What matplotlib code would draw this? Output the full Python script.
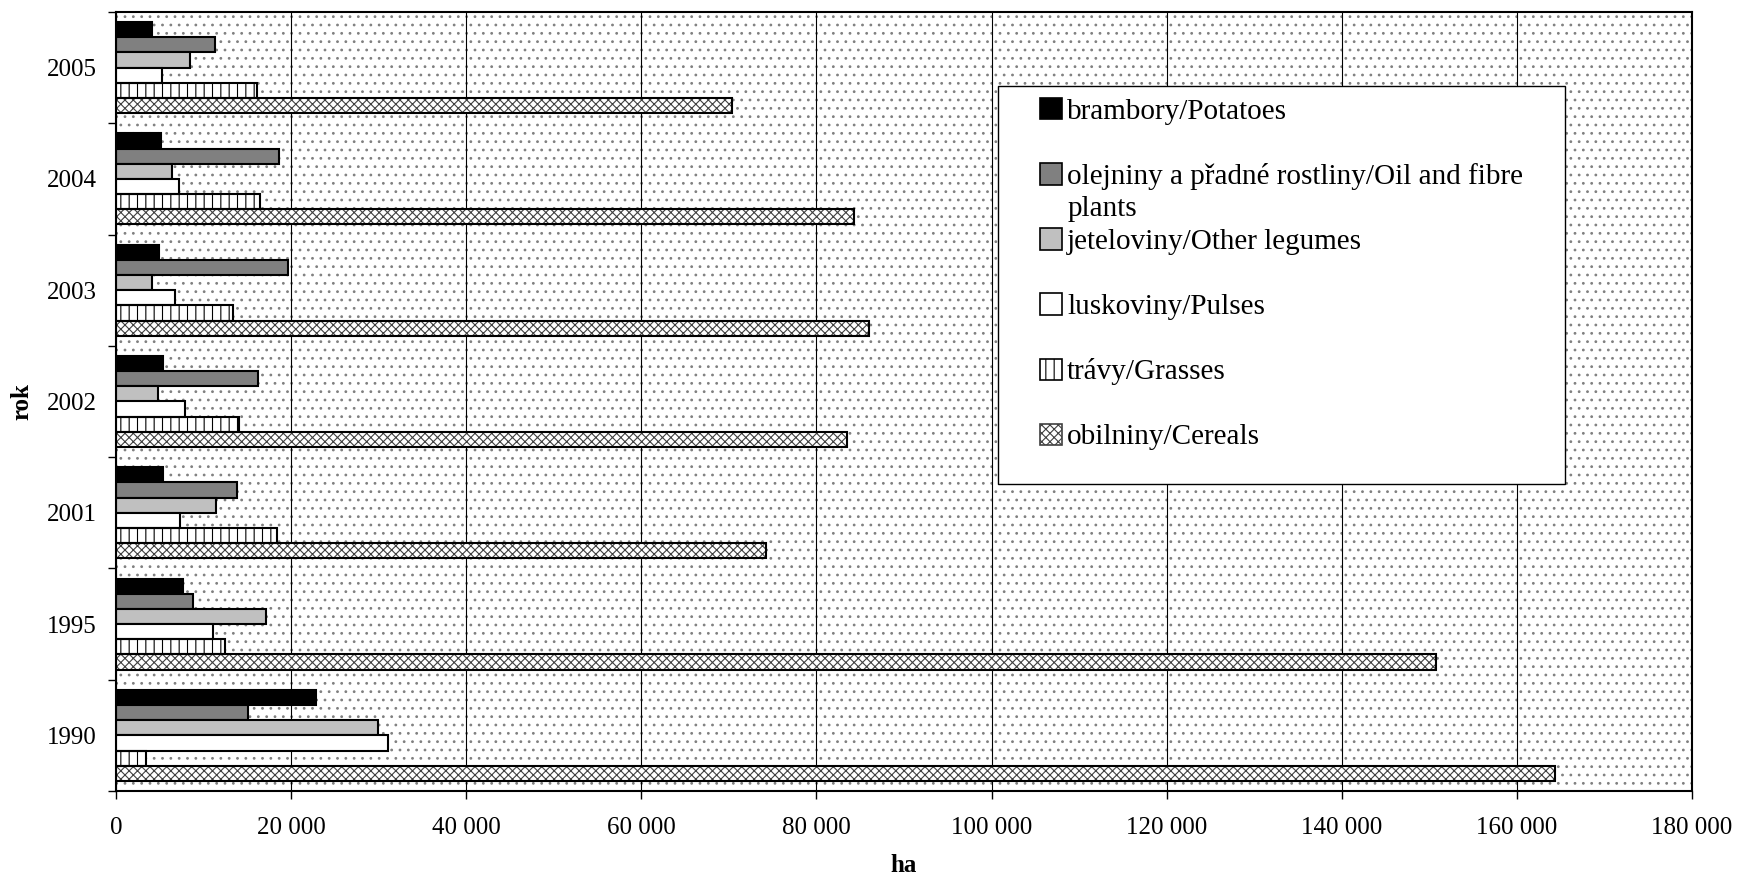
import matplotlib
matplotlib.use('Agg')
import matplotlib.pyplot as plt
import numpy as np
from matplotlib.patches import Rectangle, Patch

plt.rcParams['font.family'] = ['Liberation Serif', 'DejaVu Serif']
plt.rcParams['hatch.linewidth'] = 0.8

years = ['1990', '1995', '2001', '2002', '2003', '2004', '2005']
potatoes = [22850, 7620, 5410, 5330, 4910, 5100, 4150]
oil = [15090, 8800, 13830, 16190, 19700, 18670, 11310]
legumes = [29870, 17140, 11470, 4840, 4150, 6360, 8500]
pulses = [31050, 11120, 7310, 7850, 6780, 7160, 5300]
grasses = [3390, 12420, 18400, 14020, 13410, 16500, 16150]
cereals = [164340, 150790, 74210, 83510, 86020, 84300, 70360]

labels = ['brambory/Potatoes',
          'olejniny a přadné rostliny/Oil and fibre',
          'jeteloviny/Other legumes',
          'luskoviny/Pulses',
          'trávy/Grasses',
          'obilniny/Cereals']
xticks = [0, 20000, 40000, 60000, 80000, 100000, 120000, 140000, 160000, 180000]

# style per series: facecolor, hatch, hatch colour
styles = [('black', None, 'black'),
          ('#808080', None, 'black'),
          ('#c0c0c0', None, 'black'),
          ('white', None, 'black'),
          ('white', '||', 'black'),
          ('white', 'xxxx', '#404040')]
series = [potatoes, oil, legumes, pulses, grasses, cereals]

W, H = 1738, 877
fig = plt.figure(figsize=(W / 100, H / 100), dpi=100)
ax = fig.add_axes([116 / W, 1 - 791 / H, (1692 - 116) / W, (791 - 12) / H])

# dotted plot area background
bg = Rectangle((0, 0), 1, 1, transform=ax.transAxes, facecolor='white',
               edgecolor='#808080', hatch='..', lw=0, zorder=0)
ax.add_patch(bg)

y = np.arange(len(years))
group = 0.818
bh = group / len(series)
for j, (vals, (fc, hatch, hc)) in enumerate(zip(series, styles)):
    pos = y + group / 2 - bh / 2 - j * bh
    if hatch:
        ax.barh(pos, vals, height=bh, color=fc, edgecolor=hc, hatch=hatch,
                lw=0, zorder=2)
        ax.barh(pos, vals, height=bh, color='none', edgecolor='black',
                lw=1.5, zorder=3)
    else:
        ax.barh(pos, vals, height=bh, color=fc, edgecolor='black',
                lw=1.5, zorder=3)

ax.set_xlim(0, 180000)
ax.set_ylim(-0.5, len(years) - 0.5)
ax.set_xticks(xticks)
ax.set_xticklabels([f'{v:,}'.replace(',', ' ') for v in xticks])
ax.set_yticks(y)
ax.set_yticklabels(years)
ax.set_yticks(np.arange(len(years) + 1) - 0.5, minor=True)
ax.tick_params(axis='x', direction='out', length=6, width=1, pad=13,
               labelsize=18)
ax.tick_params(axis='y', which='major', length=0, pad=14, labelsize=18)
ax.tick_params(axis='y', which='minor', direction='out', length=6, width=1)
ax.grid(axis='x', color='black', lw=0.8, zorder=1)
ax.set_axisbelow(True)
for s in ax.spines.values():
    s.set_linewidth(1.5)
    s.set_zorder(4)

ax.text(0.5, (791 - 866) / 779, 'ha', transform=ax.transAxes, ha='center',
        va='center', fontsize=18, fontweight='bold')
ax.text((22 - 116) / 1576, 0.5, 'rok', transform=ax.transAxes, ha='center',
        va='center', rotation=90, fontsize=18, fontweight='bold')

# legend box
frame = Rectangle((998 / W, 1 - 484 / H), 567 / W, 398 / H,
                  transform=fig.transFigure, facecolor='white',
                  edgecolor='black', lw=1, zorder=5, clip_on=False)
ax.add_patch(frame)
handles = [Patch(facecolor=fc, edgecolor=hc if hatch else 'black',
                 hatch=hatch, lw=1.2) for fc, hatch, hc in styles]
leg = ax.legend(handles, labels, loc='upper left',
                bbox_to_anchor=(1040 / W, 1 - 98 / H),
                bbox_transform=fig.transFigure, frameon=False, fontsize=21,
                handlelength=0.75, handleheight=0.75, handletextpad=0.18,
                labelspacing=1.31, borderpad=0, borderaxespad=0)
leg.set_zorder(6)
ax.annotate('plants', xy=(0, 0), xycoords=leg.get_texts()[1],
            xytext=(0, -4.5), textcoords='offset points', ha='left', va='top',
            fontsize=21, zorder=7, annotation_clip=False)

fig.savefig('out.png', dpi=100)
